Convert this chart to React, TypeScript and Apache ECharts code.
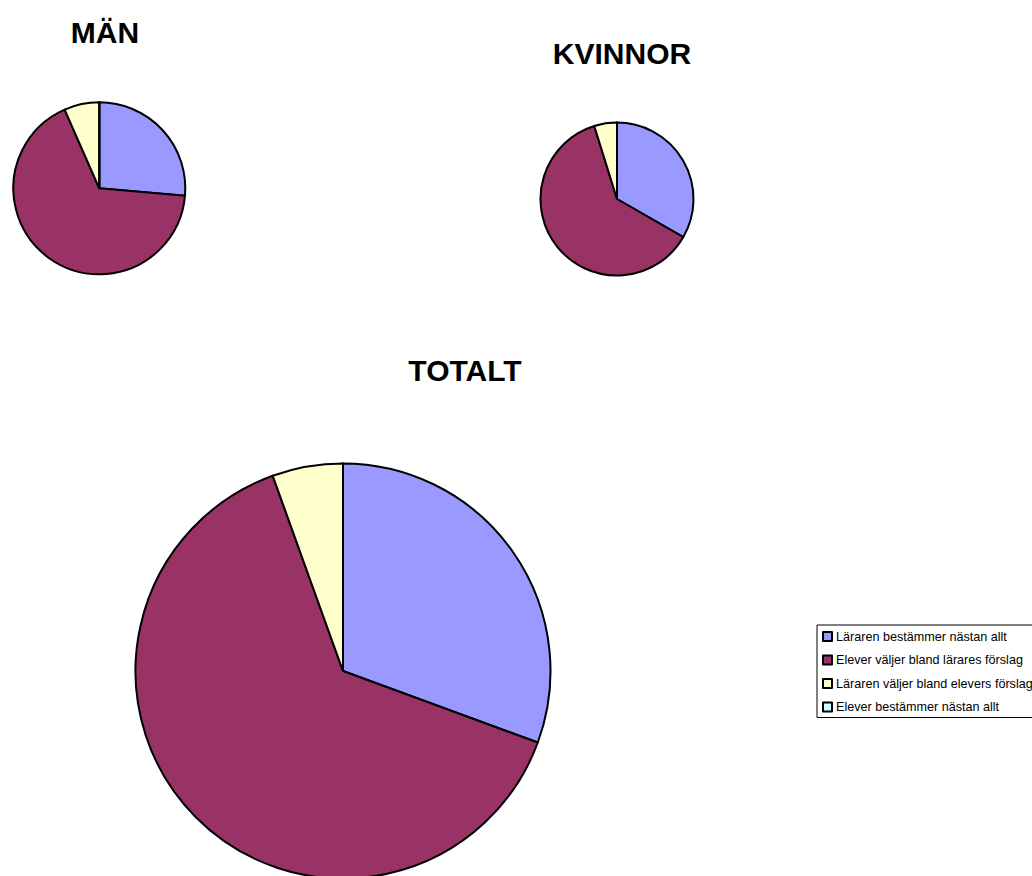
import React, { useEffect, useRef } from "react";
import * as echarts from "echarts";

const categories = [
  "Läraren bestämmer nästan allt",
  "Elever väljer bland lärares förslag",
  "Läraren väljer bland elevers förslag",
  "Elever bestämmer nästan allt",
];
const colors = ["#9999FF", "#993366", "#FFFFCC", "#CCFFFF"];
const manValues = [26.4, 67.0, 6.6, 0];
const kvinnorValues = [33.3, 61.9, 4.8, 0];
const totaltValues = [30.6, 63.9, 5.5, 0];
const titles = ["MÄN", "KVINNOR", "TOTALT"];

function makeData(values: number[]) {
  return categories.map((name, i) => ({
    name,
    value: values[i],
    itemStyle: { color: colors[i] },
  }));
}

export default function App() {
  const ref = useRef<HTMLDivElement>(null);
  useEffect(() => {
    if (!ref.current) return;
    const chart = echarts.init(ref.current, null, { renderer: "svg" });
    const font = "'Liberation Sans', Arial, sans-serif";
    const pieBase = {
      type: "pie",
      startAngle: 90,
      clockwise: true,
      label: { show: false },
      labelLine: { show: false },
      emphasis: { disabled: true },
      silent: true,
      itemStyle: { borderColor: "#000", borderWidth: 2 },
    };
    chart.setOption({
      animation: false,
      backgroundColor: "#ffffff",
      title: [
        { text: titles[0], left: 100, top: 12, textAlign: "center" },
        { text: titles[1], left: 617, top: 33, textAlign: "center" },
        { text: titles[2], left: 460, top: 350, textAlign: "center" },
      ].map((t) => ({
        ...t,
        textStyle: { fontFamily: font, fontSize: 30, fontWeight: "bold", color: "#000" },
      })),
      legend: {
        orient: "vertical",
        left: 817,
        top: 625,
        padding: [5, 40, 4, 5],
        itemGap: 10.5,
        itemWidth: 9,
        itemHeight: 9,
        icon: "rect",
        borderColor: "#000",
        borderWidth: 1,
        data: categories,
        itemStyle: { borderColor: "#000", borderWidth: 2 },
        textStyle: { fontFamily: font, fontSize: 12.6, color: "#000", lineHeight: 12, padding: [0, 0, 0, -1] },
        selectedMode: false,
      },
      series: [
        { ...pieBase, name: titles[0], center: [99.3, 188.3], radius: 86, data: makeData(manValues) },
        { ...pieBase, name: titles[1], center: [617, 199], radius: 76.5, data: makeData(kvinnorValues) },
        { ...pieBase, name: titles[2], center: [343, 671], radius: 207.5, data: makeData(totaltValues) },
      ],
    });
    return () => chart.dispose();
  }, []);
  return (
    <div
      ref={ref}
      style={{ position: "fixed", left: 0, top: 0, width: 1032, height: 876 }}
    />
  );
}
